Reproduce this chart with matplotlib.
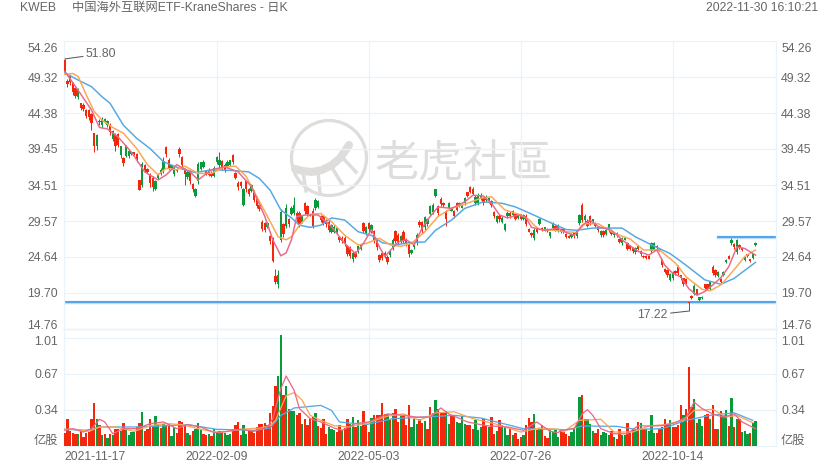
import matplotlib
matplotlib.use("Agg")
import matplotlib.pyplot as plt
from matplotlib.patches import Circle
import numpy as np

plt.rcParams['font.family'] = ['Liberation Sans', 'Noto Sans CJK SC', 'DejaVu Sans']

# daily bars
high = [51.8,49.0,49.6,48.7,48.0,47.8,45.8,45.7,45.0,45.0,
        44.4,41.7,41.5,43.5,43.8,43.7,43.4,43.0,42.0,41.6,
        41.7,39.9,38.4,40.0,39.4,39.1,39.1,38.9,35.2,37.7,
        37.4,36.8,36.1,35.8,35.2,36.1,36.8,38.4,39.9,38.2,
        37.3,37.1,36.8,39.7,38.5,36.8,36.5,36.6,34.8,34.1,
        37.7,37.7,37.9,36.5,36.8,36.4,37.1,38.5,39.0,38.0,
        37.5,37.9,38.0,38.8,36.3,35.0,35.0,34.1,35.2,34.1,
        34.7,33.8,33.0,32.0,29.7,29.5,29.5,27.7,27.4,23.0,
        22.9,31.2,29.3,31.9,30.0,31.6,32.9,30.9,30.9,30.4,
        32.2,31.8,30.6,31.3,32.7,32.5,30.4,30.4,29.8,29.7,
        29.2,29.0,28.8,27.5,27.5,27.5,26.3,26.1,25.4,25.4,
        26.3,26.4,29.5,28.9,29.5,29.2,28.4,27.2,25.1,25.4,
        25.4,24.9,25.7,27.2,28.4,27.9,27.7,28.3,27.2,26.5,
        25.7,26.5,27.9,29.7,29.6,30.3,30.0,31.8,32.0,34.0,
        31.8,32.8,32.2,31.1,32.2,31.5,31.1,32.2,32.2,31.8,
        32.9,33.6,34.4,34.2,33.1,33.4,33.4,32.9,33.1,32.9,
        32.4,30.9,30.4,30.5,30.2,29.3,30.9,30.9,31.1,30.6,
        30.6,30.6,30.5,30.5,28.6,28.0,28.6,28.6,30.0,28.7,
        28.8,28.6,28.1,29.5,29.0,29.2,28.6,28.6,27.9,27.6,
        27.9,28.1,28.4,30.6,32.0,30.6,29.8,30.4,29.9,29.5,
        28.8,28.3,28.3,28.6,29.2,28.3,28.1,28.0,27.2,27.4,
        27.4,26.7,26.3,26.0,26.0,26.3,25.6,24.9,24.9,24.9,
        26.7,26.7,26.3,25.8,24.3,23.1,23.0,22.4,22.7,22.9,
        23.5,22.2,21.8,21.7,18.5,19.4,20.9,20.3,19.2,19.3,
        21.0,21.0,21.4,23.5,23.0,22.7,21.7,22.7,24.3,24.9,
        27.2,26.5,27.1,26.4,26.0,24.7,25.1,24.4,25.2,26.7]
low = [49.8,48.0,48.2,46.9,46.4,46.3,44.8,44.6,43.7,43.4,
       42.0,39.0,39.3,42.7,42.3,43.0,42.5,41.4,40.6,39.2,
       39.7,38.2,37.1,38.3,38.2,38.6,38.6,37.7,33.8,34.2,
       36.3,36.1,34.3,33.7,33.8,35.4,35.9,36.1,38.4,36.5,
       36.8,35.8,36.3,38.3,36.9,34.5,35.3,34.6,33.6,32.8,
       34.7,36.5,36.8,35.9,35.7,35.6,35.6,37.4,36.8,36.6,
       36.3,36.9,37.1,37.4,35.3,33.8,34.1,31.6,33.6,33.0,
       33.5,32.2,31.3,30.9,28.2,28.0,28.6,26.4,24.0,21.0,
       20.4,26.7,27.4,28.6,28.8,30.4,30.4,29.5,28.8,29.3,
       30.6,30.2,30.2,28.6,31.1,31.3,29.5,29.0,28.8,28.1,
       27.9,27.9,27.9,26.7,26.6,26.1,24.8,24.5,24.0,24.5,
       25.2,25.6,27.9,27.7,28.1,27.9,26.6,25.6,24.0,24.2,
       24.5,23.7,24.7,25.6,26.5,26.3,26.6,26.5,26.1,24.6,
       25.0,25.8,26.3,28.8,27.9,28.4,28.9,30.4,30.6,32.8,
       30.4,31.6,31.5,28.9,31.1,30.9,30.0,30.9,31.5,31.3,
       31.8,32.9,33.4,33.1,31.8,31.8,32.4,31.8,32.2,32.1,
       31.5,30.0,29.3,29.5,29.3,28.2,30.0,30.0,30.2,29.7,
       29.8,29.7,29.7,28.9,28.0,27.4,27.0,27.9,29.0,28.2,
       28.2,28.1,27.3,28.4,28.2,28.1,27.9,27.9,27.2,27.2,
       27.2,27.3,27.3,29.0,29.5,29.5,28.7,29.0,29.5,28.7,
       28.1,27.4,27.4,27.6,28.1,27.6,27.4,27.4,26.5,26.3,
       26.9,25.6,25.6,25.2,25.1,25.6,24.8,24.5,24.4,24.3,
       25.2,25.4,25.8,25.4,23.3,22.4,21.9,21.3,21.5,22.2,
       22.2,21.5,20.7,20.9,17.22,18.9,19.4,19.4,18.6,18.9,
       20.2,20.2,20.1,22.2,21.9,21.9,21.0,22.0,23.8,24.3,
       26.3,25.8,25.0,25.8,25.4,24.1,24.7,24.0,24.4,26.2]
open_ = [51.6,48.8,49.4,48.5,47.8,46.6,45.7,45.5,44.8,44.8,
         44.2,41.6,39.8,43.3,42.7,43.1,42.8,42.8,40.8,41.4,
         41.5,38.6,38.2,38.5,38.5,38.7,39.0,38.7,35.2,34.5,
         37.2,36.7,35.9,35.5,34.0,35.5,36.0,36.5,39.7,38.0,
         36.9,36.0,36.7,39.5,38.3,36.6,35.6,36.4,34.6,33.0,
         35.0,36.7,37.0,36.4,36.6,36.2,35.8,37.6,37.2,37.8,
         37.3,37.1,37.3,38.6,36.2,34.8,34.9,31.8,35.0,33.9,
         33.7,33.6,32.8,31.8,29.5,29.3,28.8,27.5,27.2,22.0,
         21.0,27.0,29.1,28.9,29.8,30.6,30.7,30.7,30.7,29.5,
         32.0,31.6,30.5,30.9,31.3,31.5,30.2,30.2,29.6,29.5,
         28.1,28.1,28.1,27.4,27.3,27.3,26.1,25.9,24.3,25.2,
         25.4,25.8,29.3,27.9,29.3,28.1,28.2,27.0,24.9,25.2,
         25.2,24.7,24.9,25.8,28.2,27.7,26.8,28.1,27.0,26.3,
         25.2,26.0,26.6,29.5,29.4,28.7,29.1,30.6,30.8,33.0,
         31.6,32.6,32.0,30.9,31.3,31.0,30.9,32.0,31.6,31.4,
         32.0,33.5,34.2,34.0,32.0,32.1,32.6,32.7,32.4,32.3,
         32.3,30.8,29.5,30.3,29.5,28.4,30.2,30.7,30.4,30.5,
         30.0,30.5,29.9,30.3,28.5,27.9,27.3,28.5,29.2,28.6,
         28.3,28.5,27.5,28.6,28.9,28.3,28.5,28.5,27.8,27.5,
         27.4,28.0,27.5,29.3,31.8,29.7,29.6,30.2,29.6,29.3,
         28.7,27.6,28.2,27.8,28.3,28.2,27.6,27.9,27.1,26.5,
         27.0,26.6,26.2,25.9,25.3,26.2,25.0,24.8,24.8,24.8,
         25.4,25.6,26.2,25.7,24.2,23.0,22.9,21.5,21.7,22.7,
         23.3,22.1,21.7,21.6,18.5,19.3,19.6,20.2,18.7,19.0,
         20.9,20.9,20.3,23.3,22.8,22.0,21.6,22.2,23.9,24.8,
         26.5,26.4,25.3,26.3,25.9,24.2,25.0,24.3,24.5,26.3]
close = [50.0,48.3,48.6,47.3,46.7,47.6,45.1,44.9,44.0,43.8,
         43.0,39.9,41.4,43.1,43.5,43.5,43.3,41.8,41.9,39.9,
         40.0,39.8,37.5,39.9,39.2,39.0,38.7,38.0,33.8,37.4,
         36.6,36.3,34.8,34.2,35.0,36.0,36.6,37.8,38.8,36.9,
         37.2,36.9,36.4,38.7,37.2,36.0,36.3,35.0,33.9,33.9,
         37.4,37.6,37.6,36.0,35.9,35.7,36.9,38.4,38.0,36.9,
         36.6,37.7,37.9,37.6,35.5,34.2,34.4,33.9,34.0,33.3,
         34.5,32.5,31.6,31.2,28.5,28.3,29.3,26.8,24.1,21.2,
         22.2,30.8,27.8,31.4,29.1,31.4,31.8,29.8,29.1,30.2,
         31.0,30.5,30.3,28.9,32.5,32.3,29.7,29.3,29.1,28.4,
         29.0,28.8,28.6,26.9,26.8,26.5,25.1,24.8,25.2,24.7,
         26.1,26.3,28.2,28.8,28.5,29.0,27.0,26.0,24.2,24.5,
         24.8,24.0,25.5,27.0,26.8,26.6,27.5,26.8,26.4,25.0,
         25.6,26.4,27.7,29.0,28.2,30.1,29.8,31.6,31.8,33.9,
         30.7,31.9,31.7,29.9,32.0,31.4,30.2,31.1,32.1,31.7,
         32.7,33.0,33.6,33.3,32.9,33.2,33.2,32.0,32.9,32.7,
         31.7,30.2,30.2,29.8,30.0,29.1,30.7,30.2,30.9,29.9,
         30.4,29.9,30.4,29.2,28.1,27.6,28.4,28.0,29.8,28.3,
         28.7,28.2,28.0,29.2,28.4,29.0,28.0,28.1,27.4,27.3,
         27.8,27.5,28.2,30.4,29.7,30.2,28.9,29.4,29.8,28.9,
         28.3,28.2,27.6,28.4,29.1,27.8,28.0,27.6,26.7,27.2,
         27.3,25.8,25.8,25.4,25.9,25.8,25.5,24.6,24.5,24.4,
         26.6,26.5,25.9,25.5,23.5,22.6,22.1,22.3,22.5,22.4,
         22.4,21.7,20.9,21.1,18.3,19.0,20.7,19.6,19.1,19.2,
         20.4,20.3,21.2,22.4,22.1,22.6,21.2,22.6,24.2,24.4,
         27.0,26.0,27.0,26.0,25.6,24.6,24.8,24.1,25.1,26.6]

volume = [.125,.25,.137,.125,.115,.115,.137,.084,.125,.131,
          .25,.406,.256,.2,.1,.112,.075,.115,.106,.162,
          .156,.137,.218,.147,.1,.131,.131,.178,.218,.318,
          .137,.156,.256,.2,.281,.209,.168,.209,.2,.209,
          .094,.178,.125,.234,.225,.187,.125,.106,.137,.156,
          .218,.156,.115,.106,.115,.094,.162,.125,.137,.131,
          .125,.106,.115,.156,.193,.225,.106,.2,.115,.137,
          .137,.125,.178,.209,.209,.218,.2,.312,.37,.562,
          .652,1.036,.474,.562,.349,.324,.324,.287,.312,.203,
          .25,.193,.262,.271,.312,.187,.168,.256,.115,.178,
          .156,.147,.131,.2,.147,.168,.25,.209,.268,.178,
          .24,.187,.324,.209,.131,.262,.287,.293,.287,.406,
          .303,.303,.24,.312,.343,.225,.281,.281,.193,.387,
          .178,.256,.206,.256,.218,.234,.156,.365,.312,.427,
          .349,.312,.318,.324,.209,.293,.293,.225,.215,.281,
          .206,.193,.193,.162,.24,.153,.178,.25,.187,.178,
          .271,.115,.144,.24,.193,.178,.106,.162,.106,.119,
          .069,.084,.1,.193,.262,.225,.303,.147,.162,.193,
          .094,.075,.147,.131,.147,.084,.153,.131,.109,.094,
          .131,.156,.218,.459,.481,.256,.25,.209,.137,.122,
          .156,.106,.131,.125,.1,.137,.084,.069,.156,.106,
          .106,.218,.125,.156,.147,.225,.212,.162,.156,.137,
          .287,.125,.122,.162,.178,.256,.2,.24,.178,.178,
          .193,.381,.293,.343,.743,.365,.443,.218,.256,.184,
          .293,.303,.256,.381,.162,.162,.324,.293,.34,.184,
          .449,.178,.25,.256,.131,.137,.109,.125,.212,.237]
vol_green = [5,12,14,16,18,21,23,24,25,26,29,34,35,37,40,41,46,49,50,51,54,56,57,58,
             60,61,62,67,68,80,81,83,85,86,89,94,99,100,101,104,107,108,110,111,115,
             121,123,126,130,131,132,135,138,139,143,144,147,148,149,150,154,155,156,
             159,162,164,165,166,168,172,176,178,182,183,184,185,190,191,192,193,196,
             197,198,201,202,203,204,206,209,210,214,216,218,219,220,221,224,227,232,
             236,238,239,242,245,247,248,250,252,254,255,256,258,259]

# moving averages: bar index and value
ma5_x = [0,5,10,13,16,20,25,30,35,38,42,47,50,55,60,65,70,75,78,81,83,85,87,89,
         90,95,100,105,109,112,115,118,120,125,128,131,134,137,140,145,150,153,157,
         160,163,166,170,173,175,180,185,188,191,194,197,200,205,210,215,219,222,
         225,228,231,234,237,240,243,246,249,252,255,259]
ma5_y = [50.1,47.5,44.8,42.4,42.2,41.1,39.0,36.3,35.2,35.9,37.3,36.3,35.2,36.6,37.0,36.3,34.3,30.2,27.0,24.8,25.2,27.0,30.2,30.3,
         30.4,30.4,28.8,26.5,25.1,26.5,28.4,26.0,24.7,26.7,27.0,26.3,28.6,30.2,31.5,31.3,32.2,33.1,33.0,
         32.0,30.4,30.0,30.4,30.0,28.7,28.3,28.6,28.0,27.6,29.0,29.7,28.8,28.3,26.7,25.4,24.9,25.6,
         23.5,22.4,21.9,20.3,19.4,19.9,20.8,21.8,23.3,26.0,25.8,24.9]
ma10_x = [0,3,5,8,11,14,18,22,27,31,35,38,42,45,50,55,60,64,68,72,76,80,83,85,88,
          92,96,100,105,110,113,118,122,126,130,135,140,145,151,156,160,165,171,174,
          176,178,183,188,192,195,200,206,212,217,223,229,233,239,242,246,251,255,259]
ma10_y = [49.7,49.8,49.4,46.9,44.6,43.4,42.4,41.6,39.5,37.3,35.9,36.8,36.6,37.1,36.1,36.1,37.0,37.1,35.7,32.9,30.2,27.4,27.0,27.4,29.0,
          30.5,30.6,29.5,27.6,26.3,26.5,27.2,26.3,26.1,26.5,28.1,30.2,31.3,32.0,32.7,32.9,31.1,30.4,29.8,
          29.0,28.4,28.3,28.1,28.0,29.2,29.2,27.9,27.1,25.6,25.6,23.8,21.9,20.2,20.0,20.8,22.9,24.7,25.6]
ma20_x = [0,5,10,14,17,22,27,32,37,43,49,55,63,69,73,77,81,85,88,
          92,96,100,105,110,115,119,124,129,135,139,145,150,157,164,169,174,
          177,183,188,192,198,209,214,220,227,233,240,246,251,259]
ma20_y = [49.9,48.9,48.0,46.6,45.7,42.7,40.9,39.5,37.7,36.8,36.2,36.6,36.5,36.3,35.4,33.8,31.1,30.0,29.0,
          28.7,29.0,30.0,29.7,28.1,27.6,26.6,26.3,26.6,26.7,28.3,29.7,31.3,32.2,32.0,31.5,30.7,
          30.2,29.2,28.4,28.3,28.6,28.6,27.4,26.3,25.1,23.5,21.5,20.9,21.7,23.9]

vma5_x = [0,3,7,10,13,15,18,22,27,32,37,42,46,51,56,61,66,71,76,78,81,83,86,88,92,96,
          101,104,109,114,121,127,132,137,141,144,151,158,166,172,177,182,185,
          186,191,194,196,198,201,206,211,215,219,224,229,233,236,239,243,247,251,254,259]
vma5_y = [.147,.162,.131,.162,.25,.225,.115,.162,.162,.209,.225,.162,.2,.178,.125,.137,.156,.137,.178,.256,.537,.655,.52,.35,.256,.225,
          .168,.147,.21,.225,.30,.287,.27,.27,.356,.3,.225,.19,.178,.147,.225,.137,.125,
          .147,.162,.30,.34,.287,.162,.115,.115,.19,.187,.19,.218,.27,.41,.35,.30,.27,.30,.225,.162]
vma10_x = [0,4,9,13,19,26,32,38,44,51,58,66,73,77,79,83,86,89,92,96,101,106,113,121,127,133,
           139,146,153,161,171,178,185,187,193,201,206,213,219,225,232,236,243,248,252,258]
vma10_y = [.156,.156,.137,.178,.178,.137,.19,.21,.2,.156,.125,.156,.168,.19,.24,.47,.50,.43,.287,.24,.19,.178,.21,.28,.30,.24,
           .31,.32,.256,.21,.131,.168,.156,.131,.24,.25,.131,.131,.187,.2,.24,.334,.343,.27,.287,.218]
vma20_x = [0,8,13,26,36,46,57,71,77,81,84,86,96,100,103,113,123,134,146,156,172,185,188,194,207,214,224,233,242,251,258]
vma20_y = [.156,.147,.178,.178,.187,.2,.156,.147,.168,.287,.325,.356,.38,.334,.225,.2,.256,.27,.287,.262,.162,.156,.147,.187,.184,.156,.162,.24,.287,.31,.24]

price_ticks = [54.26,49.32,44.38,39.45,34.51,29.57,24.64,19.70,14.76]
vol_ticks = [.337,.674,1.011]
vol_labels = ['0.34','0.67','1.01']
date_idx = [0,57,114,171,228]
date_labels = ['2021-11-17','2022-02-09','2022-05-03','2022-07-26','2022-10-14']
support = 18.46
resist = 27.33
resist_from = 245

RED = '#f2270c'
GREEN = '#0a9a3c'
PINK = '#ea6a88'
ORANGE = '#fba658'
BLUE = '#55a9e2'
GRID = '#e8f4fa'
TXT = '#666666'
W, H = 839, 469
px = 0.72

fig = plt.figure(figsize=(W / 100, H / 100), dpi=100)

# watermark, drawn in pixel coordinates under the chart
bg = fig.add_axes([0, 0, 1, 1], zorder=0)
bg.set_xlim(0, W)
bg.set_ylim(H, 0)
bg.axis('off')
WM = '#dedddc'
bg.add_patch(Circle((329, 158), 37.5, fill=False, ec=WM, lw=3.2 * px))
bg.plot([295, 303, 312, 322, 332, 340, 345, 349], [169, 171, 172, 170, 165, 158, 151, 145],
        color=WM, lw=8 * px, solid_capstyle='round')
for x0, y0, x1, y1 in [(303, 172, 306, 191), (318, 172, 320, 193), (331, 166, 342, 184), (341, 156, 356, 172)]:
    bg.plot([x0, x1], [y0, y1], color=WM, lw=3.5 * px)
bg.text(464, 164, '老虎社區', fontsize=32, color=WM, ha='center', va='center',
        family=['Noto Sans CJK TC', 'DejaVu Sans'])

def panel(top, bottom):
    a = fig.add_axes([64 / W, 1 - bottom / H, (776 - 64) / W, (bottom - top) / H], zorder=1)
    a.patch.set_alpha(0)
    a.set_xlim(-0.3, 266.7)
    for s in a.spines.values():
        s.set_color(GRID)
        s.set_linewidth(1.3 * px)
    a.set_xticks(date_idx[1:])
    a.set_xticklabels([])
    a.tick_params(length=0, labelleft=False)
    a.grid(True, color=GRID, lw=1.3 * px)
    a.set_axisbelow(True)
    return a

ax = panel(41, 329)
ax.set_ylim(price_ticks[-1], price_ticks[0])
ax.set_yticks(price_ticks[1:-1])

vax = panel(329, 446)
vax.set_ylim(0, 1.095)
vax.set_yticks(vol_ticks)

# reference lines sit under the candles
ax.plot([-0.3, 266.7], [support, support], color='#bcdcf8', lw=3.4 * px, zorder=2)
ax.plot([-0.3, 266.7], [support, support], color='#4a9fe8', lw=1.8 * px, zorder=2.1)
ax.plot([resist_from, 266.7], [resist, resist], color='#bcdcf8', lw=3.4 * px, zorder=2)
ax.plot([resist_from, 266.7], [resist, resist], color='#4a9fe8', lw=1.8 * px, zorder=2.1)

idx = np.arange(len(close))
o = np.array(open_)
c = np.array(close)
colors = [GREEN if cl >= op else RED for op, cl in zip(o, c)]
ax.vlines(idx, low, high, colors=colors, lw=1.0 * px, zorder=3)
ax.bar(idx, np.maximum(np.abs(c - o), 0.12), bottom=np.minimum(o, c), width=0.8, color=colors, lw=0, zorder=3)

ax.plot(ma20_x, ma20_y, color=BLUE, lw=1.5 * px, zorder=4)
ax.plot(ma10_x, ma10_y, color=ORANGE, lw=1.5 * px, zorder=4)
ax.plot(ma5_x, ma5_y, color=PINK, lw=1.5 * px, zorder=4)

vcolors = [GREEN if i in vol_green else RED for i in idx]
vax.bar(idx, volume, width=0.78, color=vcolors, lw=0, zorder=3)
vax.plot(vma20_x, vma20_y, color=BLUE, lw=1.3 * px, zorder=4)
vax.plot(vma10_x, vma10_y, color=ORANGE, lw=1.3 * px, zorder=4)
vax.plot(vma5_x, vma5_y, color=PINK, lw=1.3 * px, zorder=4)

# high / low callouts
arrow = dict(arrowstyle='-', color='#555555', lw=1.0 * px, shrinkA=0, shrinkB=0)
ax.annotate('51.80', xy=(0, 51.80), xytext=(21 * px, 5 * px), textcoords='offset points',
            fontsize=8.8, color=TXT, va='center', ha='left', arrowprops=arrow, zorder=5)
ax.annotate('17.22', xy=(234, 17.22), xytext=(-21 * px, -4 * px), textcoords='offset points',
            fontsize=8.8, color=TXT, va='center', ha='right', arrowprops=arrow, zorder=5)

# axis labels as text, both sides
trans_l = ax.get_yaxis_transform()
for i, p in enumerate(price_ticks):
    off = 6 if i == 0 else (-5 if i == len(price_ticks) - 1 else 0)
    for side, dx, ha in [(0, -6, 'right'), (1, 5, 'left')]:
        ax.annotate('%.2f' % p, xy=(side, p), xycoords=trans_l, xytext=(dx * px, (-off - 1.5) * px),
                    textcoords='offset points', ha=ha, va='center', fontsize=8.8, color=TXT)
trans_v = vax.get_yaxis_transform()
for v, lab, off in zip(vol_ticks, vol_labels, [1, 1.5, 4]):
    for side, dx, ha in [(0, -6, 'right'), (1, 5, 'left')]:
        vax.annotate(lab, xy=(side, v), xycoords=trans_v, xytext=(dx * px, -off * px),
                     textcoords='offset points', ha=ha, va='center', fontsize=8.8, color=TXT)
for side, dx, ha in [(0, -6, 'right'), (1, 5, 'left')]:
    vax.annotate('亿股', xy=(side, 0), xycoords=trans_v, xytext=(dx * px, 5 * px),
                 textcoords='offset points', ha=ha, va='center', fontsize=8.8, color=TXT)

for i, lab in zip(date_idx, date_labels):
    vax.annotate(lab, xy=(i, 0), xycoords=vax.get_xaxis_transform(), xytext=(0, -11 * px), textcoords='offset points',
                 ha='left' if i == 0 else 'center', va='center', fontsize=8.8, color=TXT)

bg.text(20, 8, 'KWEB', fontsize=8.8, color=TXT, ha='left', va='center')
bg.text(72, 8, '中国海外互联网ETF-KraneShares - 日K', fontsize=8.8, color=TXT, ha='left', va='center')
bg.text(818, 8, '2022-11-30 16:10:21', fontsize=8.8, color=TXT, ha='right', va='center')

fig.savefig('out.png', dpi=100)
